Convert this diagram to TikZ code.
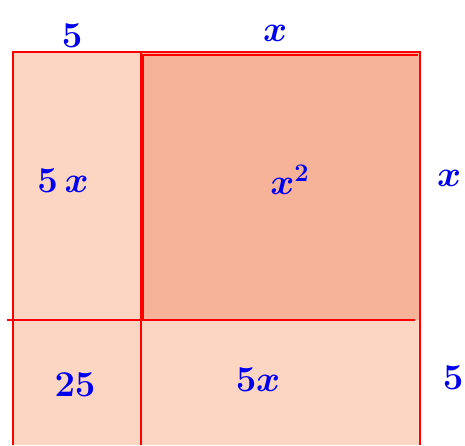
\documentclass[tikz,border=0pt]{standalone}
\usepackage{tikz}
\usetikzlibrary{positioning}
\definecolor{lightpart}{HTML}{FCD5C3}
\definecolor{darkpart}{HTML}{F7B39A}
\definecolor{penblue}{HTML}{0000F0}
\tikzset{
  edge/.style={draw=red,line width=1.2pt},
  lbl/.style={text=penblue,font=\fontsize{22}{26}\selectfont\boldmath,inner sep=0pt},
}
\begin{document}
\begin{tikzpicture}[x=0.02cm,y=-0.02cm]
  \useasboundingbox (0,0) rectangle (465,445);
  % area pieces
  \fill[lightpart] (13,52) rectangle (420,445);
  \fill[darkpart] (141,52) rectangle (420,320);
  % grid lines
  \draw[edge] (13,445) -- (13,52) -- (420,52) -- (420,445);
  \draw[edge] (141,52) -- (141,445);
  \draw[edge] (7,320) -- (415,320);
  \draw[edge] (143,320) -- (143,55) -- (418,55);
  % labels
  \node[lbl] (top5) at (72,36) {$5$};
  \node[lbl] (topx) at (275,33) {$x$};
  \node[lbl] (rightx) at (449,178) {$x$};
  \node[lbl] (right5) at (453,378) {$5$};
  \node[lbl] (fivex) at (63,181) {$5\,x$};
  \node[lbl] (xsq) at (290,180) {$x^2$};
  \node[lbl] (tf) at (75,385) {$25$};
  \node[lbl] (fivexb) at (258,380) {$5x$};
\end{tikzpicture}
\end{document}
